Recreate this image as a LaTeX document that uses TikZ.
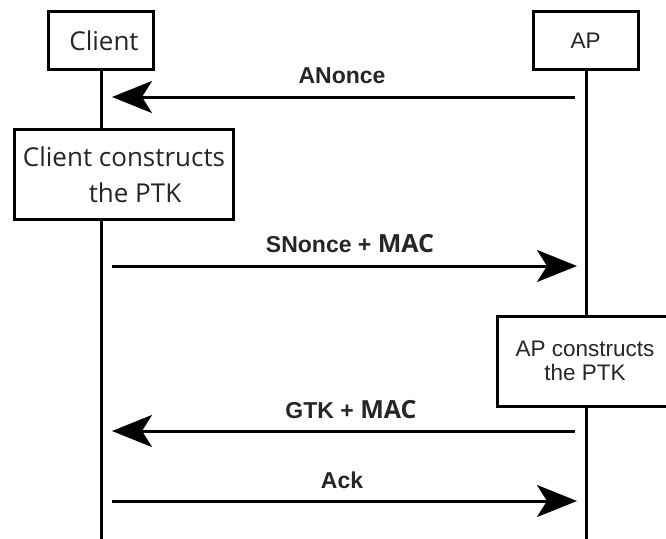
\documentclass[tikz,border=0pt]{standalone}
\usepackage{fontspec}
\setmainfont{Liberation Sans}
\newfontfamily\osans{Open Sans}
\usetikzlibrary{arrows.meta,backgrounds}
\begin{document}
\begin{tikzpicture}[x=1pt,y=-1pt,
  box/.style={draw, line width=3pt, fill=white, inner sep=0pt, text=black!85},
  life/.style={line width=3pt},
  msg/.style={line width=3pt, -{Stealth[length=40pt,width=32pt,inset=10pt]}},
  lbl/.style={font=\fontsize{23}{26}\selectfont\bfseries, text=black!85, anchor=base, inner sep=0pt},
  cfont/.style={font=\osans\fontsize{26}{36}\selectfont},
  afont/.style={font=\fontsize{22.5}{24}\selectfont}]
\useasboundingbox (0,0) rectangle (666,538);
\clip (0,0) rectangle (666,538);
% head boxes
\node[box, cfont, minimum width=105pt, minimum height=58pt] (client) at (101,40.5) {\hspace*{6pt}Client};
\node[box, afont, minimum width=105pt, minimum height=58pt] (ap) at (585.5,40.5) {AP};
% process boxes
\node[box, cfont, align=center, minimum width=219pt, minimum height=90pt] (cproc) at (124,174.5) {Client constructs\\\hspace*{22pt}the PTK};
\node[box, afont, align=center, minimum width=176pt, minimum height=90pt] (aproc) at (585,361) {AP constructs\\the PTK};
% lifeline ends
\coordinate (cbot) at (101,545);
\coordinate (abot) at (586,545);
\begin{scope}[on background layer]
  \fill[white] (0,0) rectangle (666,538);
  \draw[life] (client.south) -- (cbot);
  \draw[life] (ap.south -| abot) -- (abot);
\end{scope}
% message end points
\coordinate (c1) at (112,97);   \coordinate (a1) at (575,97);
\coordinate (c2) at (112,266);  \coordinate (a2) at (577,266);
\coordinate (c3) at (112,431);  \coordinate (a3) at (575,431);
\coordinate (c4) at (112,501);  \coordinate (a4) at (577,501);
\draw[msg] (a1) -- (c1);
\draw[msg] (c2) -- (a2);
\draw[msg] (a3) -- (c3);
\draw[msg] (c4) -- (a4);
% labels
\node[lbl] (l1) at (342,83) {ANonce};
\node[lbl] (l2) at (350,252) {SNonce + {\osans\fontsize{25}{28}\selectfont MAC}};
\node[lbl] (l3) at (351,418) {GTK + {\osans\fontsize{25}{28}\selectfont MAC}};
\node[lbl] (l4) at (342,488) {Ack};
\end{tikzpicture}
\end{document}
